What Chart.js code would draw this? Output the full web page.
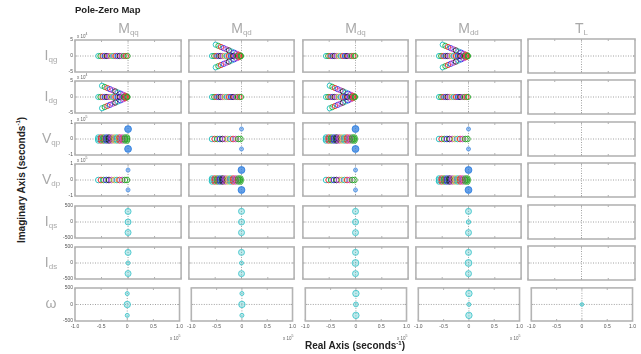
<!DOCTYPE html>
<html>
<head>
<meta charset="utf-8">
<script src="https://cdn.jsdelivr.net/npm/chart.js@4.4.1/dist/chart.umd.min.js"></script>
<style>
  body { margin: 0; background: #fff; width: 641px; height: 354px; position: relative; overflow: hidden;
         font-family: "Liberation Sans", Arial, sans-serif; }
  canvas { position: absolute; }
  .txt { position: absolute; white-space: nowrap; line-height: 1; }
  .name { color: #a9a9a9; font-size: 14px; transform: translateX(-50%); }
  .name sub { font-size: 8px; vertical-align: -2px; }
  .exp { color: #666; font-size: 4.5px; }
  .exp sup { font-size: 3.5px; }
  .bold { font-weight: bold; color: #222; }
  .bold sup { font-size: 6px; }
</style>
</head>
<body>
<script>
// Pole-zero map of a 7-output x 5-input model
const inputs = [['M', 'qq'], ['M', 'qd'], ['M', 'dq'], ['M', 'dd'], ['T', 'L']];
const outputs = [['I', 'qg'], ['I', 'dg'], ['V', 'qp'], ['V', 'dp'], ['I', 'qs'], ['I', 'ds'], ['\u03c9', '']];
const xTicks = [-1, -0.5, 0, 0.5, 1];          // x 10^5
const yLimits = [5, 5, 1, 1, 500, 500, 500];    // symmetric imaginary-axis limits per row
const yExponent = ['4', '4', '5', '5', '', '', ''];

// zeros on the real axis, left to right
const realX = [-0.56, -0.52, -0.48, -0.44, -0.40, -0.36, -0.32, -0.28, -0.24, -0.20, -0.16, -0.12, -0.08, -0.04, -0.01];
const realColor = ['c', 'g', 'r', 'b', 'k', 'm', 'y', 'c', 'r', 'b', 'k', 'm', 'g', 'r', 'g'];
// complex zero branches of the chevron panels (upper half; conjugates below)
const wingX = [-0.49, -0.44, -0.39, -0.34, -0.29, -0.24, -0.19, -0.14, -0.09, -0.05, -0.02];
const wingY = [3.5, 3.15, 2.8, 2.45, 2.1, 1.75, 1.4, 1.05, 0.7, 0.38, 0.15];
const wingColor = ['c', 'g', 'r', 'b', 'm', 'k', 'c', 'b', 'm', 'r', 'g'];
// voltage rows: real cluster plus an imaginary pair
const voltX = [-0.56, -0.51, -0.46, -0.41, -0.36, -0.31, -0.26, -0.21, -0.16, -0.11, -0.06, -0.02];
const voltColor = ['c', 'r', 'g', 'b', 'k', 'm', 'y', 'c', 'r', 'm', 'g', 'g'];
const voltImagY = [0.62, -0.62];
// stator current / speed rows: zeros on the imaginary axis
const statorY = [330, 0, -330];

const panelKind = [
  ['real', 'wing', 'real', 'wing', ''],
  ['wing', 'real', 'wing', 'real', ''],
  ['voltBig', 'voltSmall', 'voltBig', 'voltSmall', ''],
  ['voltSmall', 'voltBig', 'voltSmall', 'voltBig', ''],
  ['stator', 'stator', 'stator', 'stator', ''],
  ['stator', 'stator', 'stator', 'stator', ''],
  ['stator', 'stator', 'stator', 'stator', 'origin']
];

// ---- styling ----
const palette = { c: '#1cc0c0', g: '#28a828', r: '#ee2e2e', b: '#3030ee', k: '#222222', m: '#c23cc2', y: '#c8c83a' };
const teal = '#45c6cc';
const statorRadius = [  // [top, middle, bottom] marker radius for rows 5-7
  [[3, 3, 3], [3, 3, 3], [3, 3, 3], [3, 2.2, 3]],
  [[3, 2, 3], [3, 2, 3], [3, 3.4, 3], [3, 3.4, 3]],
  [[2, 3.2, 2], [2, 3.2, 2], [3.2, 2.4, 3.2], [3.2, 2, 3.2]]
];
const colLeft = [75, 188, 302, 415, 528];
const rowTop = [39, 80, 122, 163, 205, 246, 287];
const boxW = 107, boxH = 34, pad = 4, yAxisW = 14, xAxisH = 10;

const panelFrame = {
  id: 'panelFrame',
  beforeDatasetsDraw(chart) {
    const { ctx, chartArea: a, scales: { x, y } } = chart;
    const x0 = x.getPixelForValue(0), y0 = y.getPixelForValue(0);
    ctx.save();
    ctx.strokeStyle = '#8a8a8a';
    ctx.lineWidth = 0.8;
    ctx.setLineDash([1, 1.5]);
    ctx.beginPath();
    ctx.moveTo(a.left, y0); ctx.lineTo(a.right, y0);
    ctx.moveTo(x0, a.top); ctx.lineTo(x0, a.bottom);
    ctx.stroke();
    ctx.setLineDash([]);
    ctx.strokeStyle = '#9a9a9a';
    ctx.beginPath();
    xTicks.forEach(t => {
      const px = x.getPixelForValue(t);
      ctx.moveTo(px, a.top); ctx.lineTo(px, a.top + 2);
      ctx.moveTo(px, a.bottom); ctx.lineTo(px, a.bottom - 2);
    });
    ctx.moveTo(a.left, y0); ctx.lineTo(a.left + 2, y0);
    ctx.moveTo(a.right, y0); ctx.lineTo(a.right - 2, y0);
    ctx.stroke();
    ctx.restore();
  },
  afterDatasetsDraw(chart) {
    const { ctx, chartArea: a } = chart;
    ctx.save();
    ctx.strokeStyle = '#b4b4b4';
    ctx.lineWidth = 1.6;
    ctx.strokeRect(a.left, a.top, a.right - a.left, a.bottom - a.top);
    ctx.restore();
  }
};

function pts(xs, ys) { return xs.map((v, i) => ({ x: v, y: Array.isArray(ys) ? ys[i] : ys })); }

function zeroSet(data, colors, radius, fill) {
  return {
    data, pointStyle: 'circle', pointRadius: radius, pointBorderWidth: 0.9,
    pointBorderColor: colors, pointBackgroundColor: fill || 'rgba(0,0,0,0)', showLine: false
  };
}

function datasetsFor(kind, r, c) {
  const rc = realColor.map(k => palette[k]);
  const wc = wingColor.map(k => palette[k]);
  const vc = voltColor.map(k => palette[k]);
  switch (kind) {
    case 'real':
      return [zeroSet(pts(realX, 0), rc, 2.6)];
    case 'wing':
      return [
        zeroSet(pts(realX, 0), rc, 2.6),
        zeroSet(pts(wingX, wingY), wc, 2.6),
        zeroSet(pts(wingX, wingY.map(v => -v)), wc, 2.6)
      ];
    case 'voltBig':
      return [
        zeroSet(pts(voltX, 0.09), vc, 2.8),
        zeroSet(pts(voltX, -0.09), vc, 2.8),
        zeroSet(pts(voltX, 0), vc, 2.8),
        zeroSet(pts([0, 0], voltImagY), '#2f7fe0', 3.4, 'rgba(47,127,224,0.75)')
      ];
    case 'voltSmall':
      return [
        zeroSet(pts(voltX, 0), vc, 2.8),
        zeroSet(pts([0, 0], voltImagY), '#5a9ae6', 2, 'rgba(90,154,230,0.6)')
      ];
    case 'stator':
      return [zeroSet(pts([0, 0, 0], statorY), teal, statorRadius[r - 4][c], 'rgba(69,198,204,0.35)')];
    case 'origin':
      return [zeroSet(pts([0], [0]), teal, 1.8, 'rgba(69,198,204,0.5)')];
  }
  return [];
}

function addText(html, cls, left, top) {
  const d = document.createElement('div');
  d.className = 'txt ' + cls;
  d.innerHTML = html;
  d.style.left = left + 'px';
  d.style.top = top + 'px';
  document.body.appendChild(d);
  return d;
}

outputs.forEach((out, r) => {
  inputs.forEach((inp, c) => {
    const isLeft = c === 0, isBottom = r === outputs.length - 1;
    const lim = yLimits[r];
    const cv = document.createElement('canvas');
    const w = boxW + 2 * pad + (isLeft ? yAxisW : 0);
    const h = boxH + 2 * pad + (isBottom ? xAxisH : 0);
    cv.width = w; cv.height = h;
    cv.style.width = w + 'px'; cv.style.height = h + 'px';
    cv.style.left = (colLeft[c] - pad - (isLeft ? yAxisW : 0)) + 'px';
    cv.style.top = (rowTop[r] - pad) + 'px';
    document.body.appendChild(cv);
    new Chart(cv.getContext('2d'), {
      type: 'scatter',
      data: { datasets: datasetsFor(panelKind[r][c], r, c) },
      options: {
        responsive: false, animation: false, events: [],
        layout: { padding: pad },
        plugins: { legend: { display: false }, tooltip: { enabled: false } },
        scales: {
          x: {
            type: 'linear', min: -1, max: 1, display: isBottom,
            grid: { display: false, drawTicks: false }, border: { display: false },
            ticks: { stepSize: 0.5, autoSkip: false, maxRotation: 0, padding: 3, color: '#555', font: { size: 5 } },
            afterFit: s => { s.height = isBottom ? xAxisH : 0; }
          },
          y: {
            type: 'linear', min: -lim, max: lim, display: isLeft,
            grid: { display: false, drawTicks: false }, border: { display: false },
            ticks: { stepSize: lim, autoSkip: false, padding: 2, color: '#555', font: { size: 5 } },
            afterFit: s => { s.width = isLeft ? yAxisW : 0; }
          }
        }
      },
      plugins: [panelFrame]
    });
  });
  const mid = rowTop[r] + boxH / 2;
  addText(out[0] + (out[1] ? '<sub>' + out[1] + '</sub>' : ''), 'name', 51, mid - 8);
  if (yExponent[r]) addText('x 10<sup>' + yExponent[r] + '</sup>', 'exp', colLeft[0] + 2, rowTop[r] - 6);
});

inputs.forEach((inp, c) => {
  addText(inp[0] + '<sub>' + inp[1] + '</sub>', 'name', colLeft[c] + boxW / 2, 21);
  if (c < 4) addText('x 10<sup>5</sup>', 'exp', colLeft[c] + boxW - 12, 335);
});

addText('Pole-Zero Map', 'bold', 75, 5).style.fontSize = '9.5px';
const xl = addText('Real Axis (seconds<sup>-1</sup>)', 'bold', 355, 340);
xl.style.fontSize = '10px';
xl.style.transform = 'translateX(-50%)';
const yl = addText('Imaginary Axis (seconds<sup>-1</sup>)', 'bold', 21, 180);
yl.style.fontSize = '10px';
yl.style.transform = 'translate(-50%, -50%) rotate(-90deg)';
</script>
</body>
</html>
